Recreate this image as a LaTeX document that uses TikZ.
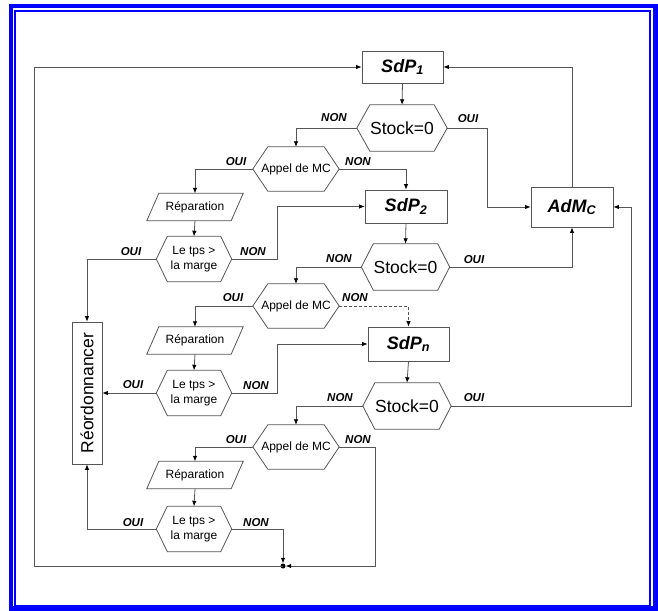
\documentclass[tikz,border=0pt]{standalone}
\usepackage{fontspec}
\usepackage{graphicx}
\setmainfont{Liberation Sans}
\usetikzlibrary{arrows.meta,calc}
\definecolor{lc}{RGB}{85,85,85}
\definecolor{fb}{RGB}{0,0,255}
\newcommand{\hexout}[2]{\draw[shp] (#1.west) -- ([xshift=#2]#1.north west) -- ([xshift=-#2]#1.north east) -- (#1.east) -- ([xshift=-#2]#1.south east) -- ([xshift=#2]#1.south west) -- cycle;}
\newcommand{\paraout}[2]{\draw[shp] (#1.south west) -- ([xshift=#2]#1.north west) -- (#1.north east) -- ([xshift=-#2]#1.south east) -- cycle;}
\tikzset{
 ln/.style={draw=lc, line width=0.8pt},
 arr/.style={ln, -{Latex[length=5.5pt,width=4.5pt,color=black]}},
 shp/.style={draw=lc, line width=0.8pt},
 box/.style={draw=lc, line width=0.8pt, inner sep=0pt, font=\fontsize{18}{20}\selectfont\bfseries\itshape},
 hexs/.style={inner sep=0pt, minimum width=90pt, minimum height=46pt, font=\fontsize{17.5}{20}\selectfont},
 hexa/.style={inner sep=0pt, minimum width=86pt, minimum height=44pt, font=\fontsize{12}{14}\selectfont},
 hexl/.style={inner sep=0pt, minimum width=75pt, minimum height=45pt, font=\fontsize{12}{15}\selectfont, align=center},
 para/.style={inner sep=0pt, minimum width=96pt, minimum height=27pt, font=\fontsize{12}{14}\selectfont},
 lbl/.style={inner sep=0pt, font=\fontsize{11.5}{13}\selectfont\bfseries\itshape},
}
\begin{document}
\begin{tikzpicture}[x=1pt,y=-1pt]
\useasboundingbox (0,0) rectangle (658,610);
\fill[white] (0,0) rectangle (658,610);
\draw[fb, line width=4.5pt] (11,6) rectangle (655.5,608.5);
\draw[fb, line width=1.8pt] (15,11) rectangle (650,606);

% boxes
\node[box, minimum width=81pt, minimum height=32pt] (sdp1) at (402.5,67) {SdP\textsubscript{1}};
\node[box, minimum width=82pt, minimum height=33pt] (sdp2) at (406,206.5) {SdP\textsubscript{2}};
\node[box, minimum width=81pt, minimum height=34pt] (sdpn) at (408.5,344) {SdP\textsubscript{n}};
\node[box, minimum width=82pt, minimum height=40pt] (adm) at (572,207) {AdM\textsubscript{C}};
\node[draw=lc, line width=0.8pt, inner sep=0pt, minimum width=30pt, minimum height=142pt, font=\fontsize{17.5}{20}\selectfont] (reord) at (87,393) {\rotatebox{90}{Réordonnancer}};

% stock hexagons
\node[hexs] (s1) at (402,128) {Stock=0}; \hexout{s1}{13pt}
\node[hexs, minimum width=88pt] (s2) at (405.5,267) {Stock=0}; \hexout{s2}{12pt}
\node[hexs, minimum width=88pt] (s3) at (407,406) {Stock=0}; \hexout{s3}{12pt}

% appel hexagons
\node[hexa] (a1) at (296,169) {Appel de MC}; \hexout{a1}{15pt}
\node[hexa] (a2) at (296,306) {Appel de MC}; \hexout{a2}{15pt}
\node[hexa] (a3) at (296,447) {Appel de MC}; \hexout{a3}{15pt}

% reparation
\node[para] (r1) at (195,207) {Réparation}; \paraout{r1}{12pt}
\node[para] (r2) at (195,340.5) {Réparation}; \paraout{r2}{12pt}
\node[para] (r3) at (195,475) {Réparation}; \paraout{r3}{12pt}

% le tps
\node[hexl] (l1) at (194,259) {Le tps >\\la marge}; \hexout{l1}{11pt}
\node[hexl] (l2) at (194,393) {Le tps >\\la marge}; \hexout{l2}{11pt}
\node[hexl] (l3) at (194,529) {Le tps >\\la marge}; \hexout{l3}{11pt}

\node[circle, fill=black, inner sep=0pt, minimum size=5pt] (dot) at (283,566) {};

% connectors
\draw[arr] (sdp1.south) -- (s1.north);
\draw[arr] (s1.west) -| (a1.north);
\draw[arr] (s1.east) -- ++(40,0) |- (adm.west);
\draw[arr] (a1.east) -| (sdp2.north);
\draw[arr] (a1.west) -| (r1.north);
\draw[arr] (r1.south) -- (l1.north);
\draw[arr] (l1.west) -| (reord.north);
\draw[arr] (l1.east) -- ++(45.5,0) |- (sdp2.west);
\draw[arr] (sdp2.south) -- (s2.north);
\draw[arr] (s2.east) -| (adm.south);
\draw[arr] (s2.west) -| (a2.north);
\draw[arr] (a2.west) -| (r2.north);
\draw[arr, dashed, dash pattern=on 3pt off 2pt] (a2.east) -| (sdpn.north);
\draw[arr] (r2.south) -- (l2.north);
\draw[arr] (l2.west) -- (reord.east);
\draw[arr] (l2.east) -- ++(45.5,0) |- (sdpn.west);
\draw[arr] (sdpn.south) -- (s3.north);
\draw[arr] (s3.east) -- ++(180,0) |- (adm.east);
\draw[arr] (s3.west) -| (a3.north);
\draw[arr] (a3.west) -| (r3.north);
\draw[arr] (r3.south) -- (l3.north);
\draw[arr] (l3.west) -| (reord.south);
\draw[arr] (l3.east) -| (dot.north);
\draw[arr] (a3.east) -- ++(36,0) |- (dot.east);
\draw[arr] (dot.center) -- ++(-249,0) |- (sdp1.west);
\draw[arr] (adm.north) |- (sdp1.east);

% labels
\node[lbl] (n1) at (334,118) {NON};
\node[lbl] (o1) at (468,119) {OUI};
\node[lbl] (n2) at (358,162) {NON};
\node[lbl] (o2) at (236,162) {OUI};
\node[lbl] (o3) at (131,252) {OUI};
\node[lbl] (n3) at (253,252) {NON};
\node[lbl] (n4) at (339,259) {NON};
\node[lbl] (o4) at (474,260) {OUI};
\node[lbl] (o5) at (233,298) {OUI};
\node[lbl] (n5) at (355,298) {NON};
\node[lbl] (o6) at (133,385) {OUI};
\node[lbl] (n6) at (256,386) {NON};
\node[lbl] (n7) at (340,398) {NON};
\node[lbl] (o7) at (474,398) {OUI};
\node[lbl] (o8) at (236,440) {OUI};
\node[lbl] (n8) at (358,440) {NON};
\node[lbl] (o9) at (133,523) {OUI};
\node[lbl] (n9) at (256,523) {NON};
\end{tikzpicture}
\end{document}
